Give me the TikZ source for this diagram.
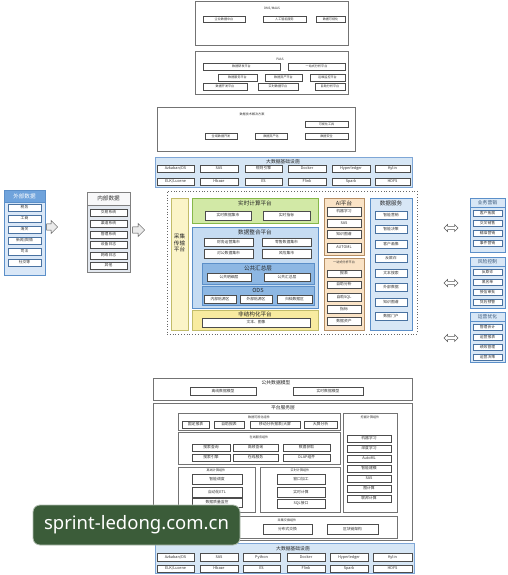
\documentclass[tikz,border=0pt]{standalone}
\usepackage{fontspec}
\setmainfont{Noto Sans CJK SC}
\newfontfamily\wmfont{Noto Sans}
\usetikzlibrary{shapes.arrows}
\definecolor{bandfill}{HTML}{D6E6F5}
\definecolor{banddraw}{HTML}{7EA6D6}
\definecolor{exthead}{HTML}{6FA3DC}
\definecolor{extfill}{HTML}{D9E7F7}
\definecolor{intfill}{HTML}{E3E8EF}
\definecolor{yelfill}{HTML}{FBF4C8}
\definecolor{yeldraw}{HTML}{C2BC6A}
\definecolor{yelfillb}{HTML}{F8EBA0}
\definecolor{grnfill}{HTML}{D2E9A6}
\definecolor{grndraw}{HTML}{86B84A}
\definecolor{blufill}{HTML}{C6DCF2}
\definecolor{bludraw}{HTML}{5B8FC9}
\definecolor{midblu}{HTML}{8DB7E3}
\definecolor{orfill}{HTML}{FAE3C6}
\definecolor{ordraw}{HTML}{B58E64}
\definecolor{svcfill}{HTML}{D8E7F6}
\definecolor{wmgreen}{HTML}{3B5C39}
\newcommand\mkbox[7]{%
  \pgfmathsetmacro\mybw{#4-#2}%
  \pgfmathsetmacro\mybh{#5-#3}%
  \pgfmathsetmacro\mycx{(#2+#4)/2}%
  \pgfmathsetmacro\mycy{(#3+#5)/2}%
  \node[#6,minimum width=\mybw pt,minimum height=\mybh pt,inner sep=0pt,outer sep=0pt] (#1) at (\mycx,\mycy) {#7};%
}
\newcommand\fTa{\fontsize{5.6}{6.5}\selectfont}
\newcommand\fTb{\fontsize{4.8}{5.5}\selectfont}
\newcommand\fI{\fontsize{3.8}{4.4}\selectfont}
\newcommand\fS{\fontsize{3.1}{3.6}\selectfont}
\begin{document}
\begin{tikzpicture}[x=1pt,y=-1pt,
  outer/.style={draw=black!55,fill=white,line width=0.6pt},
  inner/.style={draw=black!55,fill=white,line width=0.5pt},
  sitem/.style={draw=black!70,fill=white,line width=0.45pt,font=\fS,text=black!80},
  item/.style={draw=black!70,fill=white,line width=0.45pt,font=\fI,text=black!80},
  bitem/.style={draw=bludraw!80!black,fill=white,line width=0.45pt,font=\fI,text=black!80},
  band/.style={draw=banddraw,fill=bandfill,line width=0.6pt},
  ttlA/.style={font=\fTa,inner sep=0pt,text=black!85},
  ttlB/.style={font=\fTb,inner sep=0pt,text=black!85},
  ttlS/.style={font=\fS,inner sep=0pt,text=black!80},
  extpanel/.style={draw=bludraw,fill=extfill,line width=0.7pt},
  exthd/.style={draw=bludraw,fill=exthead,line width=0.7pt,font=\fTa,text=white},
  intpanel/.style={draw=black!50,fill=intfill,line width=0.7pt},
  inthd/.style={draw=black!50,fill=intfill!80!black!10,line width=0.7pt,font=\fTa,text=black!80},
  dotbox/.style={draw=black!60,dotted,line width=0.8pt},
  yelpanel/.style={draw=yeldraw,fill=yelfill,line width=0.6pt},
  yelpanelb/.style={draw=yeldraw,fill=yelfillb,line width=0.6pt},
  grnpanel/.style={draw=grndraw,fill=grnfill,line width=0.6pt},
  blupanel/.style={draw=bludraw,fill=blufill,line width=0.6pt},
  midpanel/.style={draw=bludraw,fill=midblu,line width=0.6pt},
  orpanel/.style={draw=ordraw,fill=orfill,line width=0.7pt},
  svcpanel/.style={draw=bludraw,fill=svcfill,line width=0.7pt},
  rpanel/.style={draw=bludraw,fill=svcfill,line width=0.7pt},
  rhd/.style={draw=bludraw,fill=svcfill,line width=0.5pt,font=\fTb,text=bludraw!60!black},
  harrow/.style={single arrow,draw=black!70,fill=black!8,line width=0.5pt,minimum width=13pt,single arrow head extend=2.5pt,inner sep=2.2pt},
  darrow/.style={double arrow,draw=black!65,fill=white,line width=0.5pt,minimum width=7pt,double arrow head extend=1.5pt,inner sep=1pt},
  wm/.style={fill=wmgreen,draw=wmgreen!40!white,line width=0.8pt,rounded corners=7pt,text=white,font=\wmfont\fontsize{18.5}{21}\selectfont}
]
\fill[white] (0,0) rectangle (507,575);
\useasboundingbox (0,0) rectangle (507,575);

% ---------- top box 1
\mkbox{dms}{195}{1}{348}{45}{outer}{}
\node[ttlS] (dmsT) at (272,9) {DMS/MAAS};
\mkbox{dmsA}{203}{16}{245}{22}{sitem}{企业数据中台}
\mkbox{dmsB}{263}{16}{306}{22}{sitem}{人工智能服务}
\mkbox{dmsC}{316}{16}{345}{22}{sitem}{数据可视化}

% ---------- PAAS
\mkbox{paas}{195}{51}{348}{94}{outer}{}
\node[ttlS] (paasT) at (280,59) {PAAS};
\mkbox{paA}{203}{63}{280}{70}{sitem}{数据研发平台}
\mkbox{paB}{288}{63}{345}{70}{sitem}{一站式分析平台}
\mkbox{paC}{218}{74}{257}{81}{sitem}{数据服务平台}
\mkbox{paD}{265}{74}{302}{81}{sitem}{数据资产平台}
\mkbox{paE}{310}{74}{345}{81}{sitem}{运维监控平台}
\mkbox{paF}{203}{83}{247}{90}{sitem}{数据开发平台}
\mkbox{paG}{258}{83}{298}{90}{sitem}{实时数据平台}
\mkbox{paH}{315}{83}{345}{90}{sitem}{自助分析平台}

% ---------- solutions
\mkbox{sol}{157}{107}{355}{151}{outer}{}
\node[ttlS] (solT) at (252,114) {数据技术解决方案};
\mkbox{soA}{205}{133}{237}{139}{sitem}{全域数据开发}
\mkbox{soB}{255}{133}{287}{139}{sitem}{数据资产化}
\mkbox{soC}{305}{121}{348}{127}{sitem}{可视化工具}
\mkbox{soD}{305}{133}{348}{139}{sitem}{数据安全}

% ---------- infra top
\mkbox{infT}{155}{157}{412}{187}{band}{}
\node[ttlB] (infTt) at (283,162) {大数据基础设施};
\mkbox{itA}{157}{165}{194}{172}{item}{Azkaban/DS}
\mkbox{itB}{200}{165}{238}{172}{item}{SAS}
\mkbox{itC}{245}{165}{282}{172}{item}{规则引擎}
\mkbox{itD}{288}{165}{326}{172}{item}{Docker}
\mkbox{itE}{332}{165}{370}{172}{item}{Hyperledger}
\mkbox{itF}{375}{165}{410}{172}{item}{Kylin}
\mkbox{itG}{157}{178}{194}{185}{item}{ELK/Lucene}
\mkbox{itH}{200}{178}{238}{185}{item}{Hbase}
\mkbox{itI}{245}{178}{282}{185}{item}{ES}
\mkbox{itJ}{288}{178}{326}{185}{item}{Flink}
\mkbox{itK}{332}{178}{370}{185}{item}{Spark}
\mkbox{itL}{375}{178}{410}{185}{item}{HDFS}

% ---------- external data
\mkbox{ext}{4}{190}{45}{275}{extpanel}{}
\mkbox{extH}{4}{190}{45}{202}{exthd}{外部数据}
\mkbox{exA}{8}{204}{41}{211}{bitem}{税务}
\mkbox{exB}{8}{215}{41}{222}{bitem}{工商}
\mkbox{exC}{8}{226}{41}{233}{bitem}{海关}
\mkbox{exD}{8}{237}{41}{244}{bitem}{新闻/舆情}
\mkbox{exE}{8}{248}{41}{255}{bitem}{司法}
\mkbox{exF}{8}{259}{41}{266}{bitem}{社交等}

% ---------- internal data
\mkbox{int}{87}{192}{130}{272}{intpanel}{}
\mkbox{intH}{87}{192}{130}{205}{inthd}{内部数据}
\mkbox{inA}{90}{209}{127}{216}{item}{交易系统}
\mkbox{inB}{90}{220}{127}{227}{item}{渠道系统}
\mkbox{inC}{90}{231}{127}{238}{item}{管理系统}
\mkbox{inD}{90}{241}{127}{248}{item}{设备日志}
\mkbox{inE}{90}{252}{127}{259}{item}{网络日志}
\mkbox{inF}{90}{262}{127}{269}{item}{其他}

\node[harrow,minimum height=11pt] (arE) at (50.5,227) {};
\node[harrow,minimum height=12pt] (arI) at (137,230) {};

% ---------- central platform
\mkbox{plat}{167}{191}{417}{334}{dotbox}{}
\mkbox{coll}{171}{198}{188}{330}{yelpanel}{}
\node[ttlA,align=center] (collT) at (179.5,243) {采集\\传输\\平台};

\mkbox{rt}{192}{198}{318}{223}{grnpanel}{}
\node[ttlA] (rtT) at (255,203.5) {实时计算平台};
\mkbox{rtA}{205}{211}{251}{220}{item}{实时数据集市}
\mkbox{rtB}{263}{211}{310}{220}{item}{实时指标}

\mkbox{di}{192}{227}{318}{308}{blupanel}{}
\node[ttlA] (diT) at (255,232.5) {数据整合平台};
\mkbox{diA}{204}{238}{253}{246}{item}{财务运营集市}
\mkbox{diB}{262}{238}{311}{246}{item}{零售数据集市}
\mkbox{diC}{204}{249}{253}{258}{item}{对公数据集市}
\mkbox{diD}{262}{249}{311}{258}{item}{风险集市}
\mkbox{cm}{202}{263}{314}{284}{midpanel}{}
\node[ttlA] (cmT) at (258,268) {公共汇总层};
\mkbox{cmA}{207}{273}{251}{281}{item}{公共明细层}
\mkbox{cmB}{264}{273}{310}{281}{item}{公共汇总层}
\mkbox{ods}{202}{286}{314}{305}{midpanel}{}
\node[ttlA] (odsT) at (258,290.5) {ODS};
\mkbox{odsA}{204}{295}{236}{303}{item}{内部贴源区}
\mkbox{odsB}{240}{295}{272}{303}{item}{外部贴源区}
\mkbox{odsC}{277}{295}{312}{303}{item}{归档数据区}

\mkbox{uns}{192}{310}{318}{330}{yelpanelb}{}
\node[ttlA] (unsT) at (255,314.5) {非结构化平台};
\mkbox{unsA}{202}{318}{310}{327}{item}{文本、图像}

% AI platform
\mkbox{ai}{324}{198}{364}{255}{orpanel}{}
\node[ttlA] (aiT) at (344,203) {AI平台};
\mkbox{aiA}{327}{207}{361}{216}{item}{机器学习}
\mkbox{aiB}{327}{219}{361}{227}{item}{SAS}
\mkbox{aiC}{327}{230}{361}{238}{item}{知识图谱}
\mkbox{aiD}{327}{243}{361}{252}{item}{AUTOML}
\mkbox{osa}{324}{258}{364}{330}{orpanel}{}
\node[ttlS] (osaT) at (344,262.5) {一站式分析平台};
\mkbox{osA}{327}{270}{361}{277}{item}{报表}
\mkbox{osB}{327}{281}{361}{288}{item}{自助分析}
\mkbox{osC}{327}{293}{361}{301}{item}{自助SQL}
\mkbox{osD}{327}{305}{361}{313}{item}{指标}
\mkbox{osE}{327}{317}{361}{325}{item}{数据资产}

% data services
\mkbox{ds}{370}{198}{412}{330}{svcpanel}{}
\node[ttlA] (dsT) at (391,203) {数据服务};
\mkbox{dsA}{375}{211}{407}{219}{bitem}{智能营销}
\mkbox{dsB}{375}{225.5}{407}{233.5}{bitem}{智能决策}
\mkbox{dsC}{375}{240}{407}{248}{bitem}{客户画像}
\mkbox{dsD}{375}{254.5}{407}{262.5}{bitem}{反欺诈}
\mkbox{dsE}{375}{269}{407}{277}{bitem}{文本搜索}
\mkbox{dsF}{375}{283.5}{407}{291.5}{bitem}{外部数据}
\mkbox{dsG}{375}{298}{407}{306}{bitem}{知识图谱}
\mkbox{dsH}{375}{312.5}{407}{320.5}{bitem}{数据门户}

% right panels
\node[darrow,minimum height=14pt] (da1) at (451,228) {};
\node[darrow,minimum height=14pt] (da2) at (451,283) {};
\node[darrow,minimum height=14pt] (da3) at (451,338) {};

\mkbox{rm}{470}{198}{505}{252}{rpanel}{}
\mkbox{rmH}{470}{198}{505}{207}{rhd}{业务营销}
\mkbox{rmA}{473}{210}{502}{216}{bitem}{客户拓展}
\mkbox{rmB}{473}{220}{502}{226}{bitem}{交叉销售}
\mkbox{rmC}{473}{230}{502}{236}{bitem}{精准营销}
\mkbox{rmD}{473}{240}{502}{246}{bitem}{事件营销}

\mkbox{rr}{470}{257}{505}{308}{rpanel}{}
\mkbox{rrH}{470}{257}{505}{266}{rhd}{风险控制}
\mkbox{rrA}{473}{269}{502}{275}{bitem}{反欺诈}
\mkbox{rrB}{473}{279}{502}{285}{bitem}{黑名单}
\mkbox{rrC}{473}{289}{502}{295}{bitem}{授信审批}
\mkbox{rrD}{473}{299}{502}{305}{bitem}{贷后预警}

\mkbox{ro}{470}{312}{505}{362}{rpanel}{}
\mkbox{roH}{470}{312}{505}{321}{rhd}{运营优化}
\mkbox{roA}{473}{324}{502}{330}{bitem}{管理会计}
\mkbox{roB}{473}{334}{502}{340}{bitem}{运营报表}
\mkbox{roC}{473}{344}{502}{350}{bitem}{绩效管理}
\mkbox{roD}{473}{354}{502}{360}{bitem}{运营决策}

% ---------- public data model
\mkbox{pdm}{153}{378}{412}{400}{outer}{}
\node[ttlB] (pdmT) at (276,383) {公共数据模型};
\mkbox{pdmA}{190}{387}{256}{395}{item}{离线数据模型}
\mkbox{pdmB}{293}{387}{363}{395}{item}{实时数据模型}

% ---------- platform service layer
\mkbox{psl}{153}{403}{412}{540}{outer}{}
\node[ttlB] (pslT) at (283,408) {平台服务层};

\mkbox{vis}{178}{413}{340}{430}{inner}{}
\node[ttlS] (visT) at (259,417) {数据可视化组件};
\mkbox{viA}{182}{421}{209}{428}{item}{固定报表}
\mkbox{viB}{214}{421}{244}{428}{item}{自助报表}
\mkbox{viC}{250}{421}{300}{428}{item}{移动分析报表/大屏}
\mkbox{viD}{304}{421}{337}{428}{item}{大屏分析}

\mkbox{onl}{178}{432}{340}{464}{inner}{}
\node[ttlS] (onlT) at (259,437) {在线服务组件};
\mkbox{onA}{192}{444}{230}{451}{item}{搜索查询}
\mkbox{onB}{233}{444}{278}{451}{item}{高频查询}
\mkbox{onC}{283}{444}{330}{451}{item}{数据获取}
\mkbox{onD}{192}{454}{230}{461}{item}{搜索引擎}
\mkbox{onE}{233}{454}{278}{461}{item}{在线服务}
\mkbox{onF}{283}{454}{330}{461}{item}{OLAP组件}

\mkbox{off}{178}{467}{255}{512}{inner}{}
\node[ttlS] (offT) at (216,470.5) {离线计算组件};
\mkbox{ofA}{192}{474}{242}{484}{item}{智能调度}
\mkbox{ofB}{192}{487}{242}{497}{item}{自动化ETL}
\mkbox{ofC}{192}{498}{242}{507}{item}{数据质量监控}

\mkbox{rtc}{260}{467}{340}{512}{inner}{}
\node[ttlS] (rtcT) at (300,470.5) {实时计算组件};
\mkbox{rcA}{277}{474}{325}{484}{item}{窗口加工}
\mkbox{rcB}{277}{487}{325}{497}{item}{实时计算}
\mkbox{rcC}{277}{499}{325}{508}{item}{SQL接口}

\mkbox{mine}{343}{413}{397}{512}{inner}{}
\node[ttlS] (mineT) at (370,417) {挖掘计算组件};
\mkbox{miA}{347}{435}{391}{442}{item}{机器学习}
\mkbox{miB}{347}{445}{391}{452}{item}{深度学习}
\mkbox{miC}{347}{455}{391}{462}{item}{AutoML}
\mkbox{miD}{347}{465}{391}{472}{item}{智能建模}
\mkbox{miE}{347}{475}{391}{482}{item}{SAS}
\mkbox{miF}{347}{485}{391}{492}{item}{图计算}
\mkbox{miG}{347}{495}{391}{502}{item}{联邦计算}

\mkbox{col}{178}{516}{397}{538}{inner}{}
\node[ttlS] (colT) at (287,520) {采集交换组件};
\mkbox{coB}{263}{524}{312}{534}{item}{分布式交换}
\mkbox{coC}{327}{524}{378}{534}{item}{区块链架构}

% ---------- infra bottom
\mkbox{infB}{155}{543}{414}{573}{band}{}
\node[ttlB] (infBt) at (293,549) {大数据基础设施};
\mkbox{ibA}{157}{553}{194}{561}{item}{Azkaban/DS}
\mkbox{ibB}{200}{553}{238}{561}{item}{SAS}
\mkbox{ibC}{243}{553}{280}{561}{item}{Python}
\mkbox{ibD}{287}{553}{325}{561}{item}{Docker}
\mkbox{ibE}{330}{553}{368}{561}{item}{Hyperledger}
\mkbox{ibF}{373}{553}{412}{561}{item}{Kylin}
\mkbox{ibG}{157}{565}{194}{572}{item}{ELK/Lucene}
\mkbox{ibH}{200}{565}{238}{572}{item}{Hbase}
\mkbox{ibI}{243}{565}{280}{572}{item}{ES}
\mkbox{ibJ}{287}{565}{325}{572}{item}{Flink}
\mkbox{ibK}{330}{565}{368}{572}{item}{Spark}
\mkbox{ibL}{373}{565}{412}{572}{item}{HDFS}

% ---------- watermark
\mkbox{wmk}{33}{505}{240}{545}{wm}{sprint-ledong.com.cn}
\end{tikzpicture}
\end{document}
